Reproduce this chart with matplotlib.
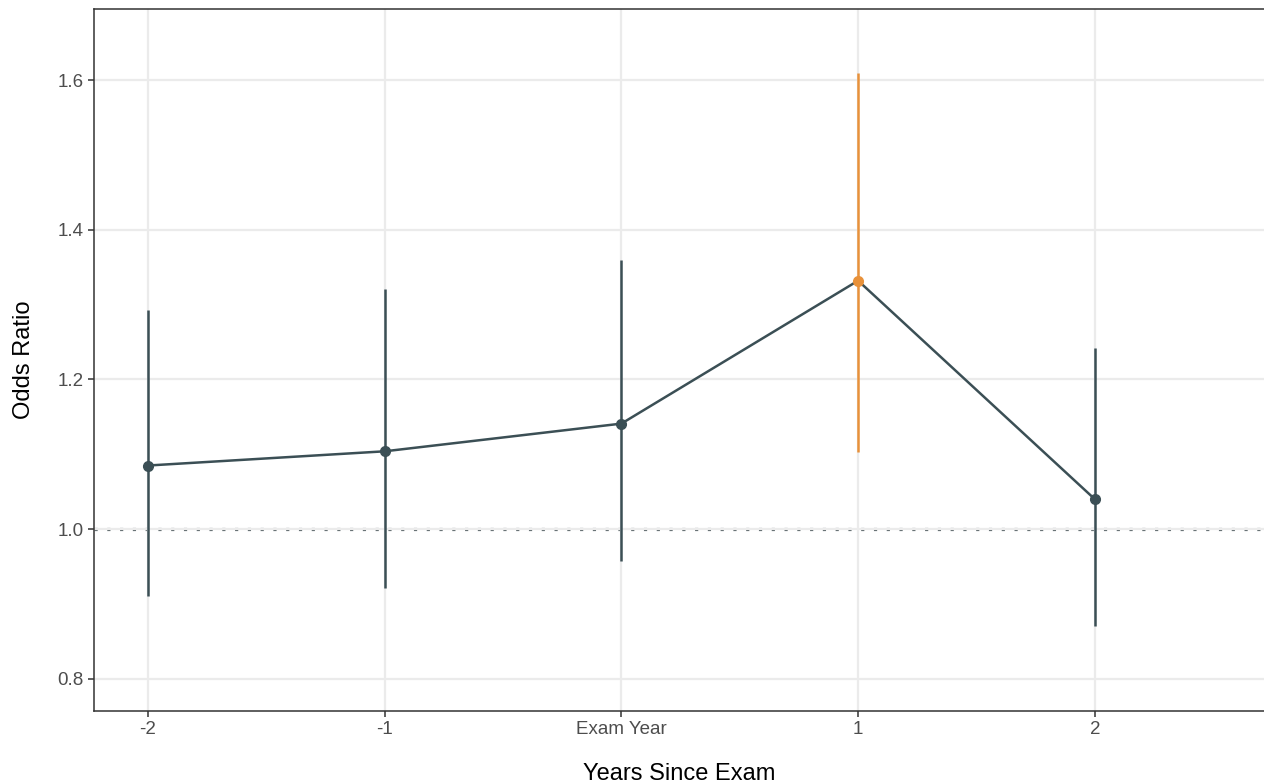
import matplotlib.pyplot as plt
import numpy as np

plt.rcParams['font.family'] = ['Liberation Sans', 'DejaVu Sans']

years = [-2, -1, 0, 1, 2]
tick_labels = ["-2", "-1", "Exam Year", "1", "2"]
odds = [1.085, 1.104, 1.141, 1.332, 1.040]
ci_low = [0.911, 0.922, 0.958, 1.103, 0.871]
ci_high = [1.293, 1.321, 1.360, 1.609, 1.242]
highlight = [False, False, False, True, False]

dark = "#3b4f55"
orange = "#e8913a"

fig = plt.figure(figsize=(12.64, 7.83), dpi=100)
ax = fig.add_axes([94 / 1264, 72 / 783, 1 - 94 / 1264 + 0.001, (711 - 9) / 783])

ax.grid(True, color="#ebebeb", linewidth=1.6, zorder=0)
ax.axhline(1.0, color="#596568", linestyle=(0, (1, 3)), linewidth=2.3,
           dash_capstyle="butt", zorder=1)

ax.plot(years, odds, color=dark, linewidth=1.8, zorder=2)
for x, y, lo, hi, h in zip(years, odds, ci_low, ci_high, highlight):
    c = orange if h else dark
    ax.vlines(x, lo, hi, color=c, linewidth=1.8, zorder=3)
    ax.plot(x, y, "o", color=c, markersize=7, zorder=4)

ax.set_xlim(-2.228, 2.72)
ax.set_ylim(0.757, 1.695)
ax.set_xticks(years)
ax.set_xticklabels(tick_labels)
ax.set_yticks([0.8, 1.0, 1.2, 1.4, 1.6])
ax.set_yticklabels(["0.8", "1.0", "1.2", "1.4", "1.6"])
ax.tick_params(colors="#333333", labelcolor="#4d4d4d", labelsize=13.5, length=4, width=1.1)

for s in ["top", "left", "bottom"]:
    ax.spines[s].set_color("#333333")
    ax.spines[s].set_linewidth(1.1)
ax.spines["right"].set_visible(False)

ax.set_xlabel("Years Since Exam", fontsize=17, color="black", labelpad=18)
ax.set_ylabel("Odds Ratio", fontsize=17, color="black", labelpad=16)

fig.savefig("out.png", dpi=100)
